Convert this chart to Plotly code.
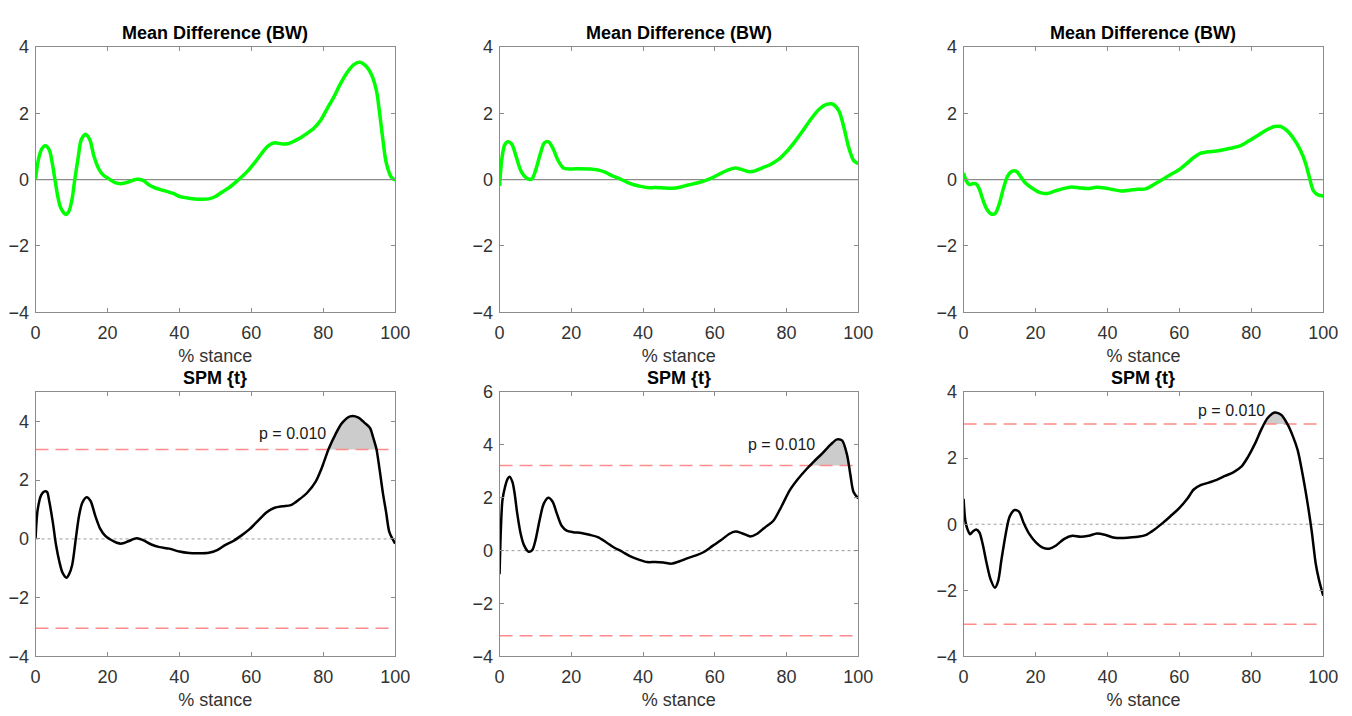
import numpy as np
import plotly.graph_objects as go

# ---------------- data ----------------
md1_x = [0, 0.6, 1.6, 2.7, 3.8, 4.8, 5.4, 6.1, 7, 8.4, 9.3, 10.2, 10.9, 11.8, 12.7, 13.9, 15.1, 16.2, 17.6, 18.9,
         20.3, 22.1, 24, 25.8, 28.1, 29.9, 31.7, 33.5, 35.4, 38.1, 40.4, 42.7, 45.4, 48.2, 50, 51.8, 53.7, 55.5,
         57.3, 59.1, 61, 62.8, 64.6, 66.5, 68.3, 70.1, 71.9, 73.8, 75.6, 77.4, 79.3, 81.1, 82.9, 84.7, 86.6, 88.4,
         90.2, 92, 93.4, 94.8, 95.7, 96.6, 97.5, 98.9, 100]
md1_y = [0.0, 0.5, 0.9, 1.02, 0.9, 0.4, 0.0, -0.46, -0.85, -1.05, -0.95, -0.56, 0.0, 0.62, 1.2, 1.37, 1.2, 0.72,
         0.32, 0.13, 0.03, -0.09, -0.12, -0.07, 0.01, -0.02, -0.17, -0.26, -0.32, -0.41, -0.52, -0.56, -0.59, -0.58,
         -0.51, -0.38, -0.25, -0.09, 0.08, 0.27, 0.52, 0.78, 1.01, 1.11, 1.08, 1.08, 1.16, 1.27, 1.4, 1.55, 1.79,
         2.14, 2.48, 2.87, 3.22, 3.46, 3.54, 3.41, 3.17, 2.68, 1.99, 1.2, 0.52, 0.08, -0.02]

md2_x = [0, 0.6, 1.4, 2.3, 3.4, 4.6, 5.8, 6.9, 8.2, 9.1, 10.1, 11.4, 12.5, 13.7, 14.9, 16.2, 17.8, 19.7, 22.4,
         25.1, 27.9, 29.7, 31.5, 33.4, 35.2, 37, 38.8, 41.1, 43.4, 45.7, 48, 50.3, 52.6, 54.8, 57.1, 59.4, 61.7,
         64, 65.8, 67.6, 69.5, 70.8, 73.1, 75.4, 77.7, 80, 82.3, 84.6, 86.8, 89.1, 91, 92.8, 94.6, 96, 97.3,
         98.7, 100]
md2_y = [-0.19, 0.6, 1.04, 1.14, 1.07, 0.7, 0.3, 0.11, 0.01, 0.03, 0.3, 0.79, 1.11, 1.14, 0.94, 0.6, 0.35, 0.32,
         0.33, 0.32, 0.28, 0.21, 0.11, 0.03, -0.06, -0.14, -0.19, -0.24, -0.24, -0.25, -0.26, -0.23, -0.16, -0.11,
         -0.04, 0.06, 0.19, 0.3, 0.35, 0.3, 0.24, 0.25, 0.35, 0.45, 0.6, 0.84, 1.14, 1.48, 1.82, 2.12, 2.26, 2.28,
         2.07, 1.58, 0.99, 0.58, 0.48]

md3_x = [0, 0.7, 1.6, 2.6, 3.5, 4.4, 5.3, 6.4, 7.6, 8.7, 9.9, 11, 12.2, 13.4, 14.7, 15.8, 17.2, 19, 21.3, 23.2,
         25.5, 27.7, 30, 32.3, 34.6, 36.9, 39.2, 41.5, 43.8, 46.1, 48.4, 50.6, 52.9, 55.2, 57.5, 59.8, 62.1, 63.9,
         65.8, 68, 70.3, 72.6, 74.9, 77.2, 79.5, 81.8, 84.1, 86.4, 88.2, 90, 91.8, 93.7, 95.1, 96.2, 97.3, 98.7,
         100]
md3_y = [0.2, -0.03, -0.15, -0.12, -0.13, -0.29, -0.59, -0.88, -1.03, -1.03, -0.74, -0.29, 0.1, 0.25, 0.25, 0.1,
         -0.1, -0.25, -0.39, -0.42, -0.34, -0.27, -0.22, -0.25, -0.27, -0.23, -0.25, -0.3, -0.34, -0.32, -0.29,
         -0.28, -0.15, 0.0, 0.15, 0.29, 0.49, 0.66, 0.79, 0.84, 0.86, 0.91, 0.96, 1.03, 1.18, 1.33, 1.49, 1.6, 1.6,
         1.47, 1.23, 0.88, 0.49, 0.05, -0.34, -0.47, -0.49]

t1_x = [0, 0.6, 1.6, 2.5, 3.2, 3.8, 4.8, 5.7, 6.6, 7.5, 8.6, 9.3, 10.2, 11.2, 12.1, 13, 14.2, 15.3, 16.6, 18,
        19.4, 20.7, 22.6, 23.9, 25.8, 28.1, 29.9, 32.2, 34.5, 37.2, 40, 42.7, 45.4, 48.2, 50.5, 52.7, 55, 57.3,
        59.6, 61.9, 64.2, 66.5, 68.7, 71, 73.3, 75.6, 77.9, 79.7, 81.5, 83.4, 85.2, 87.5, 89.8, 91.6, 93, 93.9,
        94.8, 95.7, 96.6, 97.5, 98.4, 100]
t1_y = [0.0, 1.0, 1.5, 1.62, 1.6, 1.29, 0.57, -0.21, -0.76, -1.15, -1.32, -1.21, -0.88, 0.01, 0.79, 1.23, 1.42,
        1.29, 0.79, 0.34, 0.1, -0.01, -0.13, -0.16, -0.08, 0.02, -0.04, -0.19, -0.28, -0.33, -0.43, -0.48, -0.49,
        -0.47, -0.38, -0.21, -0.07, 0.12, 0.34, 0.62, 0.9, 1.06, 1.11, 1.15, 1.34, 1.58, 1.95, 2.45, 3.06, 3.56,
        3.94, 4.17, 4.13, 3.94, 3.78, 3.45, 3.06, 2.34, 1.56, 0.9, 0.23, -0.16]

t2_x = [0, 0.4, 0.8, 1.5, 2.2, 2.8, 3.6, 4.2, 4.9, 5.9, 6.8, 8.1, 9.1, 10, 11.2, 12.3, 13.6, 14.8, 15.9, 17.3,
        18.7, 20.5, 22.8, 25.1, 27.4, 29.6, 31.9, 34.2, 36.5, 38.8, 41.1, 43.4, 45.7, 47.9, 50.2, 52.5, 54.8,
        57.1, 59.4, 61.7, 64, 65.8, 67.6, 69.9, 71.7, 74, 76.3, 78.6, 80.9, 83.2, 85.5, 87.7, 90, 92.3, 94.1,
        95.5, 96.9, 97.8, 98.7, 100]
t2_y = [-0.89, 0.94, 1.91, 2.4, 2.71, 2.8, 2.59, 2.16, 1.43, 0.63, 0.21, -0.04, 0.02, 0.39, 1.18, 1.77, 2.0, 1.85,
        1.43, 0.94, 0.76, 0.7, 0.67, 0.6, 0.51, 0.33, 0.12, -0.04, -0.22, -0.34, -0.43, -0.43, -0.45, -0.49,
        -0.4, -0.28, -0.18, -0.04, 0.18, 0.39, 0.63, 0.72, 0.66, 0.54, 0.63, 0.88, 1.12, 1.67, 2.28, 2.71, 3.07,
        3.38, 3.68, 4.01, 4.21, 4.17, 3.62, 2.89, 2.22, 1.98]

t3_x = [0, 0.5, 1.1, 1.8, 2.6, 3.5, 4.4, 5.3, 6.4, 7.5, 8.7, 9.6, 10.5, 11.7, 12.8, 14.2, 15.4, 16.7, 18.3, 20.1,
        22, 23.8, 25.6, 27.9, 30.2, 32.5, 34.8, 37.1, 39.3, 41.6, 43.9, 46.2, 48.5, 50.8, 53.1, 55.4, 57.6, 59.9,
        62.2, 64, 65.9, 68.2, 70.4, 72.7, 75, 77.3, 79.1, 81, 82.8, 84.6, 86.5, 88.3, 90.1, 91.5, 92.9, 94.2,
        95.6, 96.8, 97.9, 98.8, 100]
t3_y = [0.77, 0.09, -0.16, -0.3, -0.22, -0.16, -0.25, -0.6, -1.18, -1.67, -1.92, -1.72, -1.09, -0.3, 0.23, 0.43,
        0.38, 0.04, -0.3, -0.55, -0.71, -0.74, -0.65, -0.45, -0.35, -0.38, -0.35, -0.28, -0.32, -0.4, -0.42,
        -0.4, -0.38, -0.32, -0.16, 0.04, 0.25, 0.48, 0.77, 1.05, 1.18, 1.26, 1.34, 1.46, 1.57, 1.75, 2.04, 2.43,
        2.87, 3.22, 3.38, 3.31, 3.02, 2.68, 2.24, 1.55, 0.67, -0.21, -1.18, -1.67, -2.16]

thresholds = [3.04, 3.22, 3.03]
p_labels = ["p = 0.010", "p = 0.010", "p = 0.010"]
p_label_x = [61.5, 68.8, 64.6]
p_label_y = [3.6, 4.0, 3.45]

md_series = [(md1_x, md1_y), (md2_x, md2_y), (md3_x, md3_y)]
t_series = [(t1_x, t1_y), (t2_x, t2_y), (t3_x, t3_y)]
spm_ranges = [[-4, 5], [-4, 6], [-4, 4]]
spm_ticks = [[-4, -2, 0, 2, 4], [-4, -2, 0, 2, 4, 6], [-4, -2, 0, 2, 4]]
x_ticks = [0, 20, 40, 60, 80, 100]
md_ticks = [-4, -2, 0, 2, 4]

# ---------------- layout geometry ----------------
W, H = 1352, 716
x_doms = [[31 / W, 396 / W], [502 / W, 866 / W], [973 / W, 1338 / W]]
top_dom = [1 - 311 / H, 1 - 38 / H]
bot_dom = [1 - 665 / H, 1 - 393 / H]

FONT = "Liberation Sans, Arial, sans-serif"
AXIS_COL = "#8c8c8c"
TXT_COL = "#333333"

fig = go.Figure()


def cluster_polys(xs, ys, thr):
    xs = np.asarray(xs, float)
    ys = np.asarray(ys, float)
    polys = []
    cur = None
    for i in range(len(xs)):
        above = ys[i] > thr
        if above and cur is None:
            if i > 0:
                f = (thr - ys[i - 1]) / (ys[i] - ys[i - 1])
                xc = xs[i - 1] + f * (xs[i] - xs[i - 1])
            else:
                xc = xs[i]
            cur = ([xc], [thr])
        if above:
            cur[0].append(xs[i])
            cur[1].append(ys[i])
        if (not above) and cur is not None:
            f = (thr - ys[i - 1]) / (ys[i] - ys[i - 1])
            xc = xs[i - 1] + f * (xs[i] - xs[i - 1])
            cur[0].append(xc)
            cur[1].append(thr)
            polys.append(cur)
            cur = None
    if cur is not None:
        cur[0].append(xs[-1])
        cur[1].append(thr)
        polys.append(cur)
    return polys


annotations = []
for k in range(3):
    ax_top = 2 * k + 1
    ax_bot = 2 * k + 2
    xa_t = "x" if ax_top == 1 else f"x{ax_top}"
    ya_t = "y" if ax_top == 1 else f"y{ax_top}"
    xa_b = f"x{ax_bot}"
    ya_b = f"y{ax_bot}"

    # --- top: mean difference ---
    fig.add_trace(go.Scatter(x=[0, 100], y=[0, 0], mode="lines",
                             line=dict(color="#8a8a8a", width=1.2),
                             xaxis=xa_t, yaxis=ya_t, showlegend=False, hoverinfo="skip"))
    mx, my = md_series[k]
    fig.add_trace(go.Scatter(x=mx, y=my, mode="lines",
                             line=dict(color="#00ff00", width=3.5, shape="spline", smoothing=0.8),
                             xaxis=xa_t, yaxis=ya_t, showlegend=False))

    # --- bottom: SPM{t} ---
    tx, ty = t_series[k]
    thr = thresholds[k]
    for poly in cluster_polys(tx, ty, thr):
        fig.add_trace(go.Scatter(x=poly[0], y=poly[1], mode="lines", fill="toself",
                                 fillcolor="#cccccc", line=dict(width=0, shape="spline", smoothing=0.8),
                                 xaxis=xa_b, yaxis=ya_b, showlegend=False, hoverinfo="skip"))
    fig.add_trace(go.Scatter(x=[0, 100], y=[0, 0], mode="lines",
                             line=dict(color="#9a9a9a", width=1, dash="dot"),
                             xaxis=xa_b, yaxis=ya_b, showlegend=False, hoverinfo="skip"))
    for sgn in (1, -1):
        fig.add_trace(go.Scatter(x=[0, 100], y=[sgn * thr, sgn * thr], mode="lines",
                                 line=dict(color="#ff8a8a", width=1.5, dash="13px,7px"),
                                 xaxis=xa_b, yaxis=ya_b, showlegend=False, hoverinfo="skip"))
    fig.add_trace(go.Scatter(x=tx, y=ty, mode="lines",
                             line=dict(color="#000000", width=2.5, shape="spline", smoothing=0.8),
                             xaxis=xa_b, yaxis=ya_b, showlegend=False))
    annotations.append(dict(x=p_label_x[k], y=p_label_y[k], xref=xa_b, yref=ya_b,
                            text=p_labels[k], showarrow=False, xanchor="left", yanchor="middle",
                            font=dict(family=FONT, size=16, color="#1a1a1a")))

    # titles
    for dom_y, title in ((top_dom, "Mean Difference (BW)"), (bot_dom, "SPM {t}")):
        annotations.append(dict(x=(x_doms[k][0] + x_doms[k][1]) / 2, y=dom_y[1], xref="paper", yref="paper",
                                text=f"<b>{title}</b>", showarrow=False, xanchor="center", yanchor="bottom",
                                yshift=2, font=dict(family=FONT, size=18, color="#000000")))

    common_x = dict(range=[0, 100], tickvals=x_ticks, ticks="inside", ticklen=4, tickcolor=AXIS_COL,
                    showline=True, linecolor=AXIS_COL, linewidth=1, mirror="ticks", showgrid=False,
                    zeroline=False, tickfont=dict(family=FONT, size=18, color=TXT_COL),
                    ticklabelstandoff=4,
                    title=dict(text="% stance", font=dict(family=FONT, size=18, color=TXT_COL), standoff=7),
                    domain=x_doms[k])
    common_y = dict(ticks="inside", ticklen=4, tickcolor=AXIS_COL, showline=True, linecolor=AXIS_COL,
                    linewidth=1, mirror="ticks", showgrid=False, zeroline=False,
                    ticklabelstandoff=2,
                    tickfont=dict(family=FONT, size=18, color=TXT_COL))

    xkey_t = "xaxis" if ax_top == 1 else f"xaxis{ax_top}"
    ykey_t = "yaxis" if ax_top == 1 else f"yaxis{ax_top}"
    fig.update_layout(**{
        xkey_t: dict(common_x, anchor=ya_t),
        ykey_t: dict(common_y, range=[-4, 4], tickvals=md_ticks, domain=top_dom, anchor=xa_t),
        f"xaxis{ax_bot}": dict(common_x, anchor=ya_b),
        f"yaxis{ax_bot}": dict(common_y, range=spm_ranges[k], tickvals=spm_ticks[k], domain=bot_dom, anchor=xa_b),
    })

fig.update_layout(width=W, height=H, margin=dict(l=0, r=0, t=0, b=0),
                  paper_bgcolor="white", plot_bgcolor="white",
                  annotations=annotations, showlegend=False)

fig.write_html("out.html")
